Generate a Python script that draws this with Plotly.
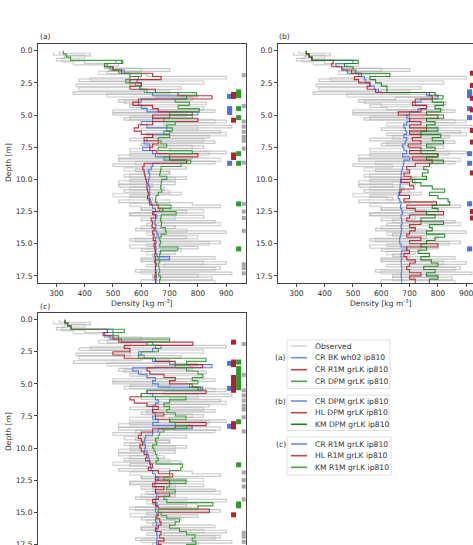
import plotly.graph_objects as go

W, H = 473, 545

# ---------------- data ----------------
# model layer tops (m), 0.25 m resolution
depth_grid = [i * 0.25 for i in range(72)]
depth_bottom = 18.3

# observed density profiles (two cores)
obs_depth = [round(i * 0.2, 1) for i in range(90)]
obs_rho = [310, 420, 330, 300, 400,
           520, 470, 700, 480, 620,
           900, 380, 560, 370, 740,
           600, 360, 800, 650, 520,
           830, 560, 620, 860, 500,
           700, 540, 900, 680, 920,
           600, 880, 620, 840, 560,
           860, 600, 820, 700, 900,
           560, 780, 520, 860, 500,
           760, 580, 700, 540, 760,
           560, 720, 520, 680, 540,
           740, 560, 640, 520, 780,
           880, 600, 760, 560, 820,
           600, 860, 620, 720, 580,
           900, 640, 760, 560, 880,
           620, 800, 600, 720, 640,
           860, 600, 900, 620, 880,
           580, 920, 640, 850, 600]
obs2_depth = [round(0.1 + i * 0.25, 2) for i in range(72)]
obs2_rho = [290, 400, 320, 360,
            480, 600, 450, 560,
            420, 820, 560, 380,
            700, 480, 780, 540,
            600, 820, 500, 760,
            560, 860, 620, 800,
            700, 900, 640, 820,
            620, 780, 560, 840,
            520, 880, 580, 640,
            540, 700, 560, 720,
            520, 640, 560, 700,
            500, 620, 700, 560,
            600, 820, 560, 720,
            640, 880, 600, 760,
            620, 800, 580, 840,
            560, 740, 620, 700,
            600, 820, 680, 860,
            600, 800, 640, 860]

# panel (a)
a_blue = [None, None, None, 510,
          480, 500, 540, 560, 590, 585, 600, 595, 620, 640, 760, 600,
          590, 600, 620, 800, 700, 640, 600, 620, 690, 700, 640, 620,
          610, 630, 605, 640, 650, 700, 760, 640, 635, 625, 630, 628,
          625, 625, 630, 628, 630, 628, 632, 635, 640, 650, 645, 655,
          650, 648, 652, 650, 655, 660, 650, 652, 650, 652, 650, 655,
          700, 650, 652, 650, 652, 650, 653, 652]
a_red = [None, None, None, 530,
         470, 500, 530, 640, 670, 560, 600, 560, 650, 730, 850, 590,
         570, 640, 660, 780, 640, 800, 640, 590, 575, 600, 640, 610,
         660, 640, 630, 655, 800, 700, 760, 610, 605, 610, 612, 615,
         618, 620, 620, 622, 625, 622, 628, 630, 660, 676, 640, 650,
         635, 640, 638, 645, 640, 645, 642, 648, 645, 648, 650, 648,
         650, 648, 652, 650, 650, 652, 648, 650]
a_green = [325, 335, 350, 535,
           470, 490, 520, 600, 560, 545, 580, 595, 610, 795, 760, 720,
           770, 730, 805, 700, 780, 680, 720, 690, 710, 680, 700, 660,
           670, 690, 660, 780, 700, 680, 775, 740, 670, 668, 665, 690,
           672, 670, 668, 672, 660, 652, 650, 655, 705, 665, 723, 670,
           668, 672, 670, 685, 688, 670, 665, 668, 665, 729, 668, 665,
           662, 665, 660, 663, 665, 662, 668, 665]

# panel (b)
b_blue = [335, 345, 355, 500,
          440, 465, 480, 520, 540, 545, 560, 575, 590, 760, 800, 740,
          720, 760, 730, 700, 690, 700, 690, 680, 685, 690, 680, 690,
          685, 675, 680, 690, 675, 700, 680, 678, 675, 672, 670, 670,
          668, 667, 666, 665, 662, 660, 665, 670, 668, 672, 675, 670,
          672, 673, 670, 672, 670, 668, 665, 665, 670, 690, 672, 670,
          672, 670, 671, 672, 672, 670, 671, 672]
b_red = [335, 345, 355, 430,
         425, 460, 495, 530, 505, 520, 560, 550, 580, 770, 780, 720,
         710, 760, 740, 660, 800, 700, 740, 700, 760, 700, 740, 710,
         740, 695, 740, 700, 800, 710, 780, 720, 690, 700, 680, 705,
         670, 700, 715, 670, 665, 700, 680, 795, 690, 720, 820, 700,
         690, 740, 700, 720, 700, 690, 740, 700, 800, 690, 700, 680,
         690, 720, 700, 690, 700, 740, 700, 720]
b_green = [335, 345, 355, 518,
           470, 500, 510, 630, 560, 580, 600, 620, 620, 790, 818, 780,
           820, 790, 810, 760, 820, 760, 790, 760, 800, 740, 810, 780,
           820, 760, 790, 740, 800, 760, 820, 770, 750, 765, 745, 760,
           710, 740, 780, 824, 770, 800, 836, 842, 780, 800, 760, 790,
           740, 820, 770, 780, 760, 824, 790, 760, 740, 760, 730, 770,
           740, 777, 800, 750, 790, 760, 800, 770]

# panel (c)
c_blue = [330, 340, 352, 500,
          470, 490, 530, 640, 670, 640, 590, 610, 640, 700, 850, 570,
          590, 620, 650, 640, 660, 817, 620, 640, 650, 660, 650, 640,
          640, 650, 640, 660, 640, 780, 660, 640, 615, 612, 610, 615,
          612, 620, 625, 628, 630, 632, 635, 640, 650, 660, 650, 648,
          652, 650, 655, 652, 650, 655, 652, 650, 655, 652, 650, 655,
          652, 655, 654, 656, 655, 654, 656, 655]
c_red = [330, 340, 352, 480,
         465, 500, 520, 782, 540, 560, 500, 540, 650, 720, 817, 620,
         630, 680, 720, 700, 780, 800, 829, 600, 560, 575, 620, 660,
         640, 680, 650, 700, 829, 720, 640, 600, 590, 600, 605, 595,
         600, 610, 620, 615, 630, 640, 625, 660, 711, 650, 700, 640,
         680, 650, 700, 660, 640, 650, 660, 841, 660, 655, 665, 670,
         660, 650, 670, 665, 680, 660, 670, 665]
c_green = [330, 340, 352, 540,
           500, 520, 700, 620, 650, 660, 600, 590, 829, 760, 720, 760,
           800, 817, 780, 800, 770, 810, 620, 600, 758, 700, 680, 700,
           690, 720, 758, 700, 720, 760, 680, 665, 660, 650, 655, 640,
           645, 650, 655, 660, 652, 746, 740, 700, 700, 680, 758, 700,
           690, 720, 700, 680, 690, 853, 800, 660, 670, 690, 735, 720,
           700, 735, 760, 790, 780, 793, 760, 790]

# ice-layer markers (depths, m)
obs_ice = [1.9, 4.3, 5.5, 5.9, 6.3, 6.7, 7.0, 7.6, 8.7,
           11.9, 12.5, 13.0, 14.0, 16.6, 16.9, 17.3]
a_blue_ice = [3.55, 4.5, 4.65, 4.8, 8.75]
a_red_ice = [3.4, 3.55, 5.4, 8.1, 8.3]
a_green_ice = [3.2, 3.35, 3.5, 4.5, 5.2, 8.0, 8.75, 11.9, 15.4]
b_blue_ice = [3.2, 3.35, 3.5, 4.5, 5.2, 8.0, 8.75, 11.9, 15.4]
b_red_ice = [1.75, 2.7, 3.7, 4.6, 6.2, 7.1, 9.5, 12.5, 13.0]
c_blue_ice = [3.4, 5.35, 8.3]
c_red_ice = [1.75, 3.3, 3.5, 4.5, 4.75, 5.0, 5.25, 5.5, 8.1, 8.35, 15.2]
c_green_ice = [3.3, 3.8, 4.05, 4.3, 4.55, 4.8, 5.05, 5.3, 7.95, 11.3, 14.35, 14.5]

ice_x = {"blue": 912, "red": 926, "green": 944, "obs": 962}
b_red_ice_x = 922

legend_a = ["Observed", "CR BK wh02 ip810", "CR R1M grLK ip810", "CR DPM grLK ip810"]
legend_b = ["CR DPM grLK ip810", "HL DPM grLK ip810", "KM DPM grLK ip810"]
legend_c = ["CR R1M grLK ip810", "HL R1M grLK ip810", "KM R1M grLK ip810"]

x_ticks = [300, 400, 500, 600, 700, 800, 900]
y_ticks = [0.0, 2.5, 5.0, 7.5, 10.0, 12.5, 15.0, 17.5]

# ---------------- styles ----------------
BLUE = "#4a72e0"
RED = "#b5202a"
GREEN = "#2e9a2e"
DGREEN = "#17801a"
OBS = "rgba(165,165,165,0.6)"
OBS2 = "rgba(195,195,195,0.6)"
FONT = "DejaVu Sans"
FS = 7.6
TXT = "#333333"
LINE = "#444444"

fig = go.Figure()


def step(xvals, name, color, xa, ya, width=1.1):
    fig.add_trace(go.Scatter(
        x=list(xvals) + [xvals[-1]], y=list(depth_grid) + [depth_bottom],
        mode="lines", line=dict(color=color, width=width, shape="vh"),
        xaxis=xa, yaxis=ya, showlegend=False, name=name, opacity=0.9))


def obs(xa, ya):
    fig.add_trace(go.Scatter(
        x=obs2_rho + [obs2_rho[-1]], y=obs2_depth + [depth_bottom],
        mode="lines", line=dict(color=OBS2, width=1.6, shape="vh"),
        xaxis=xa, yaxis=ya, showlegend=False, name="Observed"))
    fig.add_trace(go.Scatter(
        x=obs_rho + [obs_rho[-1]], y=obs_depth + [depth_bottom],
        mode="lines", line=dict(color=OBS, width=1.2, shape="vh"),
        xaxis=xa, yaxis=ya, showlegend=False, name="Observed"))


def ice(depths, xv, color, xa, ya, size=5, symbol="square"):
    fig.add_trace(go.Scatter(
        x=[xv] * len(depths), y=depths, mode="markers",
        marker=dict(symbol=symbol, size=size, color=color, line=dict(width=0)),
        xaxis=xa, yaxis=ya, showlegend=False))


# panel (a)
obs("x", "y")
step(a_blue, legend_a[1], BLUE, "x", "y")
step(a_red, legend_a[2], RED, "x", "y")
step(a_green, legend_a[3], GREEN, "x", "y")
ice(obs_ice, ice_x["obs"], "#a8a8a8", "x", "y", size=4)
ice(a_blue_ice, ice_x["blue"], BLUE, "x", "y")
ice(a_red_ice, ice_x["red"], RED, "x", "y")
ice(a_green_ice, ice_x["green"], GREEN, "x", "y")

# panel (b)
obs("x2", "y2")
step(b_blue, legend_b[0], BLUE, "x2", "y2")
step(b_red, legend_b[1], RED, "x2", "y2")
step(b_green, legend_b[2], DGREEN, "x2", "y2")
ice(b_blue_ice, ice_x["blue"], BLUE, "x2", "y2")
ice(b_red_ice, b_red_ice_x, RED, "x2", "y2")

# panel (c)
obs("x3", "y3")
step(c_blue, legend_c[0], BLUE, "x3", "y3")
step(c_red, legend_c[1], RED, "x3", "y3")
step(c_green, legend_c[2], GREEN, "x3", "y3")
ice(obs_ice, ice_x["obs"], "#a8a8a8", "x3", "y3", size=4)
ice(c_blue_ice, ice_x["blue"], BLUE, "x3", "y3")
ice(c_red_ice, ice_x["red"], RED, "x3", "y3")
ice(c_green_ice, ice_x["green"], GREEN, "x3", "y3")


def fx(px):
    return px / W


def fy(py):
    return 1 - py / H


tickfont = dict(family=FONT, size=FS, color=TXT)
common_x = dict(tickvals=x_ticks, ticks="outside", ticklen=3, tickwidth=0.8,
                tickcolor=LINE, showline=True, linecolor=LINE, linewidth=0.8,
                showgrid=False, zeroline=False, tickfont=tickfont, automargin=False,
                fixedrange=True, ticklabeloverflow="allow")
common_y = dict(tickvals=y_ticks, ticktext=[f"{v:.1f}" for v in y_ticks],
                ticks="outside", ticklen=3, tickwidth=0.8, tickcolor=LINE,
                showline=True, linecolor=LINE, linewidth=0.8, showgrid=False,
                zeroline=False, tickfont=tickfont, automargin=False, fixedrange=True,
                ticklabeloverflow="allow")

x_b_end = 235 + (W - 278) / (208 / 735)

fig.update_layout(
    width=W, height=H, template="none",
    margin=dict(l=0, r=0, t=0, b=0),
    paper_bgcolor="white", plot_bgcolor="white",
    showlegend=False,
    xaxis=dict(domain=[fx(38), fx(246)], range=[235, 970], anchor="y", mirror=True, **common_x),
    yaxis=dict(domain=[fy(283), fy(44)], range=[18.05, -0.52], anchor="x", mirror=True, **common_y),
    xaxis2=dict(domain=[fx(278), 1.0], range=[235, x_b_end], anchor="y2", mirror=True, **common_x),
    yaxis2=dict(domain=[fy(283), fy(44)], range=[18.05, -0.52], anchor="x2", mirror=False, **common_y),
    xaxis3=dict(domain=[fx(38), fx(246)], range=[235, 970], anchor="y3", mirror=True,
                showticklabels=False, **{k: v for k, v in common_x.items() if k not in ("ticks",)}),
    yaxis3=dict(domain=[0.0, fy(313)], range=[17.55, -0.52], anchor="x3", mirror=True, **common_y),
)
fig.layout.xaxis3.ticks = ""

ann = []


def text(px, py, s, xanchor="center", angle=0, size=FS):
    ann.append(dict(x=fx(px), y=fy(py), xref="paper", yref="paper", text=s,
                    showarrow=False, xanchor=xanchor, yanchor="middle",
                    textangle=angle, font=dict(family=FONT, size=size, color=TXT)))


text(38, 37, "(a)", "left")
text(277, 37, "(b)", "left")
text(38, 306, "(c)", "left")
text(8, 163, "Depth [m]", angle=-90)
text(8, 432, "Depth [m]", angle=-90)
text(142, 303, "Density [kg m<sup>-3</sup>]")
text(381, 303, "Density [kg m<sup>-3</sup>]")

# legend boxes (drawn)
shapes = []


def box(x0, y0, x1, y1):
    shapes.append(dict(type="rect", xref="paper", yref="paper",
                       x0=fx(x0), x1=fx(x1), y0=fy(y1), y1=fy(y0),
                       line=dict(color="#d9d9d9", width=0.8), fillcolor="white", layer="above"))


def entry(py, label, color, width=1.6):
    shapes.append(dict(type="line", xref="paper", yref="paper",
                       x0=fx(291), x1=fx(307), y0=fy(py), y1=fy(py),
                       line=dict(color=color, width=width), layer="above"))
    text(313, py, label, "left")


box(287, 340, 390, 388.5)
entry(346, legend_a[0], "#b8b8b8", 1.0)
entry(357.7, legend_a[1], "#6f8fe0")
entry(369.7, legend_a[2], "#c4474f")
entry(381.3, legend_a[3], "#44a844")
text(280.5, 357.7, "(a)")

box(287, 395, 389, 430.5)
entry(401, legend_b[0], "#6f8fe0")
entry(412.7, legend_b[1], "#c4474f")
entry(424.3, legend_b[2], "#1f7f22")
text(280.5, 401, "(b)")

box(287, 437, 391, 475)
entry(444, legend_c[0], "#6f8fe0")
entry(455.7, legend_c[1], "#c4474f")
entry(467.3, legend_c[2], "#44a844")
text(280.5, 444, "(c)")

fig.update_layout(annotations=ann, shapes=shapes)
fig.write_html("out.html")
